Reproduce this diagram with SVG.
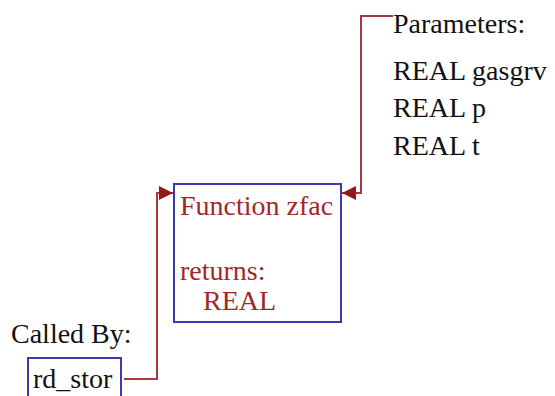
<svg xmlns="http://www.w3.org/2000/svg" width="555" height="396" viewBox="0 0 555 396">
<defs>
<style>
.box{fill:#fff;stroke:#3a3aaa;stroke-width:2}
.conn{fill:none;stroke:#a8383c;stroke-width:2}
.t{font-family:'Liberation Serif','Times New Roman','DejaVu Serif',serif;font-size:28px;fill:#111}
.r{fill:#a02828}
</style>
<marker id="ah" viewBox="0 0 10 10" refX="10" refY="5" markerWidth="14" markerHeight="14" markerUnits="userSpaceOnUse" orient="auto">
<path d="M0,0 L10,5 L0,10 z" fill="#8e1a1e"/>
</marker>
</defs>
<rect width="555" height="396" fill="#fff"/>
<g id="connectors">
<path class="conn" d="M124,379 H157 V193 H173" marker-end="url(#ah)"/>
<path class="conn" d="M393,16 H361 V193 H342" marker-end="url(#ah)"/>
</g>
<g id="zfac">
<rect class="box" x="174" y="184" width="167" height="138"/>
<text class="t r" x="180" y="215" font-family="Liberation Serif, serif">Function zfac</text>
<text class="t r" x="180" y="280">returns:</text>
<text class="t r" x="203" y="310">REAL</text>
</g>
<g id="params">
<text class="t" x="393" y="33">Parameters:</text>
<text class="t" x="393" y="80">REAL gasgrv</text>
<text class="t" x="393" y="117">REAL p</text>
<text class="t" x="393" y="155">REAL t</text>
</g>
<g id="calledby">
<text class="t" x="11" y="343">Called By:</text>
</g>
<g id="rd_stor">
<rect class="box" x="28" y="358" width="93" height="50"/>
<text class="t" x="33" y="388">rd_stor</text>
</g>
</svg>
